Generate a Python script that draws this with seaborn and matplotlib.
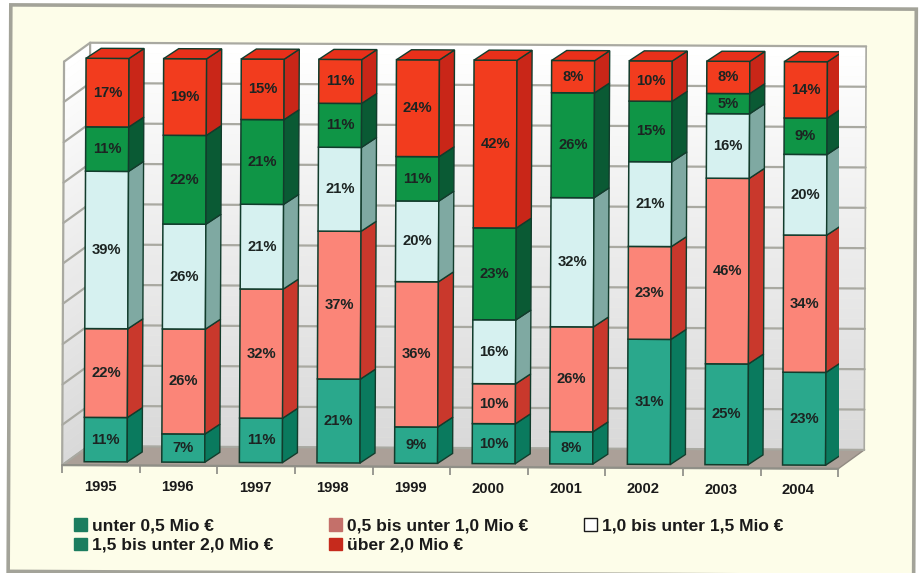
import numpy as np
import pandas as pd
import matplotlib
matplotlib.use("Agg")
import matplotlib.pyplot as plt
from matplotlib.patches import Polygon, Rectangle, Patch
from matplotlib.transforms import Affine2D
import seaborn as sns

years = ["1995", "1996", "1997", "1998", "1999", "2000", "2001", "2002", "2003", "2004"]
unter_05 = [11, 7, 11, 21, 9, 10, 8, 31, 25, 23]
von_05_10 = [22, 26, 32, 37, 36, 10, 26, 23, 46, 34]
von_10_15 = [39, 26, 21, 21, 20, 16, 32, 21, 16, 20]
von_15_20 = [11, 22, 21, 11, 11, 23, 26, 15, 5, 9]
ueber_20 = [17, 19, 15, 11, 24, 42, 8, 10, 8, 14]

series_names = ["unter 0,5 Mio €", "0,5 bis unter 1,0 Mio €", "1,0 bis unter 1,5 Mio €",
                "1,5 bis unter 2,0 Mio €", "über 2,0 Mio €"]
series_values = [unter_05, von_05_10, von_10_15, von_15_20, ueber_20]
front_colors = ["#2aa88c", "#fb8578", "#d6f1f0", "#0f9546", "#f23c1e"]
side_colors = ["#0a7a5e", "#c9382c", "#7fa9a2", "#0a5a34", "#c92618"]
top_colors = ["#1d9277", "#e25f50", "#a8cfcb", "#0c7a3c", "#e8301a"]
legend_colors = ["#1c7d5f", "#c4706a", "#ffffff", "#1c7d5f", "#c62a1c"]

W, H = 924, 573
sns.set_style("white")
plt.rcParams["font.family"] = ["Liberation Sans", "DejaVu Sans"]
plt.rcParams["font.weight"] = "bold"

fig = plt.figure(figsize=(W / 100, H / 100), dpi=100, facecolor="white")

# The whole page sits very slightly turned clockwise.
turn = Affine2D().rotate_deg_around(462, H - 286, -0.27)

fig.add_artist(Rectangle((9.5, H - 573.5), 905.5, 566.5, transform=turn, zorder=-1,
                         facecolor="#fdfde9", edgecolor="#a3a399", linewidth=2.6))

# Axis area: x runs over ten category slots, y over percent of the yearly total.
left_px, right_px = 63, 839
base_px, per_cent_px = 463.5, 4.035
floor_px, top_px = 467, 40
ax = fig.add_axes([left_px / W, 1 - floor_px / H, (right_px - left_px) / W, (floor_px - top_px) / H])
ax.patch.set_alpha(0)

slot = (right_px - left_px) / 10
x0 = -(106.5 - left_px) / slot
y0 = -(floor_px - base_px) / per_cent_px
y1 = (base_px - top_px) / per_cent_px
xlim = (x0, x0 + 10)
ylim = (y0, y1)

# Depth offsets of the room and of each bar, in data units.
room_dx, room_dy = 26 / slot, 19 / per_cent_px
bar_dx, bar_dy = 15 / slot, 10 / per_cent_px
bar_w = 43 / slot

# Room behind the bars: grey-to-white gradient on both walls, then floor and grid.
shades = np.linspace(0.85, 1.0, 41)
steps = np.linspace(0, 100, 41)
xl, xr = xlim
for k in range(40):
    c = str(shades[k] + (shades[k + 1] - shades[k]) * 0.5)
    ya, yb = steps[k], steps[k + 1]
    ax.add_patch(Polygon([(xl + room_dx, ya + room_dy + y0), (xr + room_dx, ya + room_dy + y0),
                          (xr + room_dx, yb + room_dy + y0), (xl + room_dx, yb + room_dy + y0)],
                         facecolor=c, edgecolor=c, linewidth=0.3, zorder=0.5, clip_on=False))
    ax.add_patch(Polygon([(xl, ya + y0), (xl + room_dx, ya + room_dy + y0),
                          (xl + room_dx, yb + room_dy + y0), (xl, yb + y0)],
                         facecolor=c, edgecolor=c, linewidth=0.3, zorder=0.5, clip_on=False))

ax.add_patch(Polygon([(xl, y0), (xr, y0), (xr + room_dx, y0 + room_dy), (xl + room_dx, y0 + room_dy)],
                     facecolor="#aba098", edgecolor="#918a82", linewidth=1, zorder=0.7, clip_on=False))
grid_color = "#a9a9a1"
for level in np.arange(0, 101, 10):
    yy = y0 + level
    ax.plot([xl, xl + room_dx, xr + room_dx], [yy, yy + room_dy, yy + room_dy],
            color=grid_color, lw=1.6, zorder=0.8, clip_on=False, solid_joinstyle="miter")
ax.plot([xl, xl], [y0, y0 + 100], color=grid_color, lw=1.6, zorder=0.8, clip_on=False)
ax.plot([xl + room_dx, xl + room_dx], [y0 + room_dy, y0 + room_dy + 100], color=grid_color, lw=1.6, zorder=0.8, clip_on=False)
ax.plot([xr + room_dx, xr + room_dx], [y0 + room_dy, y0 + room_dy + 100], color=grid_color, lw=1.2, zorder=0.8, clip_on=False)

# Stacked bars, each year scaled to 100 %.
values = np.array(series_values, dtype=float)
shares = values / values.sum(axis=0) * 100
bottoms = np.vstack([np.zeros(len(years)), np.cumsum(shares, axis=0)[:-1]])
edge = "#123c2c"

for s, name in enumerate(series_names):
    frame = pd.DataFrame({"Jahr": years, "Anteil": shares[s]})
    sns.barplot(data=frame, x="Jahr", y="Anteil", order=years, color=front_colors[s], saturation=1,
                bottom=bottoms[s], width=bar_w, edgecolor=edge, linewidth=1.1, errorbar=None,
                zorder=3, ax=ax)
    for i in range(len(years)):
        lo, hi = bottoms[s][i], bottoms[s][i] + shares[s][i]
        xb = i + bar_w / 2
        ax.add_patch(Polygon([(xb, lo), (xb + bar_dx, lo + bar_dy), (xb + bar_dx, hi + bar_dy), (xb, hi)],
                             facecolor=side_colors[s], edgecolor=edge, linewidth=1.0, zorder=3))
        if s == len(series_names) - 1:
            xa = i - bar_w / 2
            ax.add_patch(Polygon([(xa, hi), (xb, hi), (xb + bar_dx, hi + bar_dy), (xa + bar_dx, hi + bar_dy)],
                                 facecolor=top_colors[s], edgecolor=edge, linewidth=1.0, zorder=3))
        ax.text(i, (lo + hi) / 2, f"{series_values[s][i]}%", ha="center", va="center",
                fontsize=10.6, fontweight="bold", color="#1c2422", zorder=5)

# Category labels sit under the floor's front edge, boundaries marked by short ticks.
label_shift = 5.5 / slot
ax.set_xlim(xlim)
ax.set_ylim(ylim)
ax.set_yticks([])
ax.set_xlabel("")
ax.set_ylabel("")
ax.set_xticks(np.arange(len(years)) - label_shift)
ax.set_xticklabels(years, fontsize=10.6, fontweight="bold", color="#1a1a1a")
ax.set_xticks(xl + np.arange(len(years) + 1), minor=True)
ax.tick_params(axis="x", which="major", bottom=False, length=0, pad=10.5)
ax.tick_params(axis="x", which="minor", bottom=True, length=5.5, width=1.4, color="#9a9a92", direction="out")
for spine in ax.spines.values():
    spine.set_visible(False)
ax.plot([xl, xr], [y0, y0], color="#8f8f87", lw=1.6, zorder=1, clip_on=False)

# Turn everything in the axes along with the page.
for artist in ax.get_children():
    if artist in ax.spines.values() or artist is ax.patch or artist in (ax.xaxis, ax.yaxis):
        continue
    if isinstance(artist, Rectangle):
        artist.set_transform(artist.get_data_transform() + turn)
    elif hasattr(artist, "get_transform"):
        artist.set_transform(artist.get_transform() + turn)
for tick in ax.xaxis.get_major_ticks():
    tick.label1.set_transform(tick.label1.get_transform() + turn)
for tick in ax.xaxis.get_minor_ticks():
    tick.tick1line.set_transform(tick.tick1line.get_transform() + turn)

handles = [Patch(facecolor=legend_colors[j], edgecolor="#1a1a1a" if j == 2 else legend_colors[j],
                 linewidth=1.0, label=series_names[j]) for j in (0, 3, 1, 4, 2)]
fig.legend(handles=handles, ncol=3, loc="lower left", bbox_to_anchor=(74 / W, 1 - 553 / H),
           frameon=False, fontsize=12.5, handlelength=0.75, handleheight=0.75, handletextpad=0.3,
           labelspacing=0.25, columnspacing=3.2, borderpad=0, borderaxespad=0,
           labelcolor="#1a1a1a")

fig.savefig("out.png", dpi=100, facecolor="white")
